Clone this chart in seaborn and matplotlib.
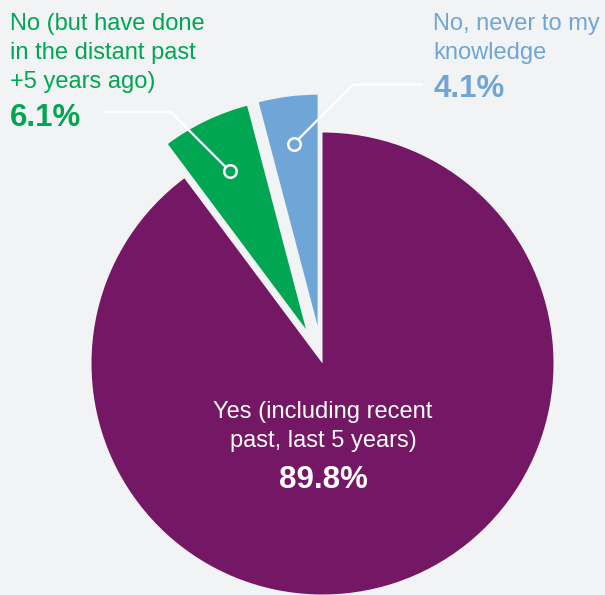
import numpy as np
import matplotlib
matplotlib.use("Agg")
import matplotlib.pyplot as plt
import seaborn as sns

# ---- data ----
categories = ["Yes (including recent\npast, last 5 years)",
              "No (but have done\nin the distant past\n+5 years ago)",
              "No, never to my\nknowledge"]
values = [89.8, 6.1, 4.1]
pct_labels = ["89.8%", "6.1%", "4.1%"]
colors = ["#741764", "#00A651", "#6FA5D7"]
bg = "#F2F3F5"

sns.set_theme(style="white")
plt.rcParams['font.family'] = ['Liberation Sans', 'DejaVu Sans']

W, H = 605, 595
fig = plt.figure(figsize=(W / 100, H / 100), dpi=100, facecolor=bg)
ax = fig.add_axes([0, 0, 1, 1])
ax.set_facecolor(bg)

cx, cy, R = 322.5, H - 363.5, 231
ex_off = 0.165 * R
wedges, _ = ax.pie(values, colors=colors, startangle=90, counterclock=False,
                   explode=[0, ex_off, ex_off], radius=R, center=(cx, cy),
                   wedgeprops=dict(linewidth=0), frame=True)
ax.set_xlim(0, W)
ax.set_ylim(0, H)
ax.set_aspect('equal')
ax.axis('off')

# ---- leader lines ----
def leader(w, frac, side, end_x):
    mid = np.deg2rad((w.theta1 + w.theta2) / 2)
    wx, wy = w.center
    px = wx + frac * R * np.cos(mid)
    py = wy + frac * R * np.sin(mid)
    d = 59
    ex = px + side * d
    ey = py + d
    ax.plot([px, ex, end_x], [py, ey, ey], color="white", lw=1.6,
            solid_capstyle='butt', zorder=5)
    ax.plot([px], [py], marker='o', ms=9, mfc=w.get_facecolor(),
            mec="white", mew=1.8, zorder=6)

leader(wedges[1], 0.76, -1, 105)
leader(wedges[2], 0.795, +1, 423)

# ---- labels ----
FS, FSB = 17, 22.5

def block(lines, x, y0, color, ha):
    for i, ln in enumerate(lines):
        ax.text(x, H - (y0 + 29 * i), ln, fontsize=FS, color=color,
                ha=ha, va='baseline')

block(categories[1].split("\n"), 10, 30, colors[1], 'left')
ax.text(10, H - 126, pct_labels[1], fontsize=FSB, fontweight='bold',
        color=colors[1], ha='left', va='baseline')

block(categories[2].split("\n"), 433, 30, colors[2], 'left')
ax.text(433, H - 97, pct_labels[2], fontsize=FSB, fontweight='bold',
        color=colors[2], ha='left', va='baseline')

block(categories[0].split("\n"), 323, 418, "white", 'center')
ax.text(323, H - 488, pct_labels[0], fontsize=FSB, fontweight='bold',
        color="white", ha='center', va='baseline')

fig.savefig("out.png", dpi=100, facecolor=bg)
